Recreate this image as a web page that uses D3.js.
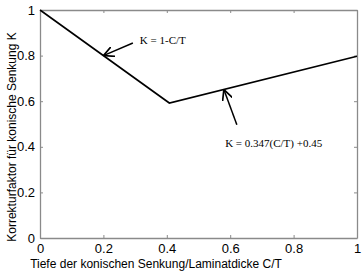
<!DOCTYPE html>
<html>
<head>
<meta charset="utf-8">
<script src="https://cdn.jsdelivr.net/npm/d3@7"></script>
<style>
  body { margin: 0; background: #fff; }
  svg { display: block; }
</style>
</head>
<body>
<div id="chart"></div>
<script>
// curve: K = 1-C/T down to the intersection, then K = 0.347(C/T)+0.45
var curveX = [0, 0.408, 1];
var curveK = [1, 0.592, 0.797];

var xTicks = [0, 0.2, 0.4, 0.6, 0.8, 1];
var yTicks = [0, 0.2, 0.4, 0.6, 0.8, 1];
var xTickLabels = ['0', '0.2', '0.4', '0.6', '0.8', '1'];
var yTickLabels = ['0', '0.2', '0.4', '0.6', '0.8', '1'];

// annotations: text, text anchor point, arrow tail, arrow tip (all in data units)
var noteText = ['K = 1-C/T', 'K = 0.347(C/T) +0.45'];
var noteAt = [[0.315, 0.851], [0.584, 0.399]];
var arrowFrom = [[0.293, 0.855], [0.621, 0.497]];
var arrowTo = [[0.2, 0.8], [0.58, 0.651]];

var width = 364, height = 273;
var margin = {top: 10, right: 7, bottom: 35, left: 40};

var svg = d3.select('#chart').append('svg')
  .attr('width', width)
  .attr('height', height);

var x = d3.scaleLinear().domain([0, 1]).range([margin.left, width - margin.right]);
var y = d3.scaleLinear().domain([0, 1]).range([height - margin.bottom, margin.top]);

var axisColor = '#8a8a8a';
var font = 'Liberation Sans, Arial, sans-serif';

// MATLAB style box with inward ticks on all sides
function styleAxis(g) {
  g.select('.domain').attr('stroke', axisColor).attr('stroke-width', 1.3);
  g.selectAll('.tick line').attr('stroke', axisColor);
}

svg.append('g')
  .attr('transform', 'translate(0,' + y(0) + ')')
  .call(d3.axisBottom(x).tickValues(xTicks).tickSizeInner(-3).tickSizeOuter(0)
    .tickFormat(function(d, i) { return xTickLabels[i]; }).tickPadding(6))
  .call(styleAxis)
  .call(function(g) {
    g.selectAll('text').attr('font-size', 13).attr('font-family', font).attr('fill', '#000');
  });

svg.append('g')
  .attr('transform', 'translate(0,' + y(1) + ')')
  .call(d3.axisTop(x).tickValues(xTicks).tickSizeInner(-3).tickSizeOuter(0).tickFormat(''))
  .call(styleAxis);

svg.append('g')
  .attr('transform', 'translate(' + x(0) + ',0)')
  .call(d3.axisLeft(y).tickValues(yTicks).tickSizeInner(-3).tickSizeOuter(0)
    .tickFormat(function(d, i) { return yTickLabels[i]; }).tickPadding(5))
  .call(styleAxis)
  .call(function(g) {
    g.selectAll('text').attr('font-size', 13).attr('font-family', font).attr('fill', '#000');
  });

svg.append('g')
  .attr('transform', 'translate(' + x(1) + ',0)')
  .call(d3.axisRight(y).tickValues(yTicks).tickSizeInner(-3).tickSizeOuter(0).tickFormat(''))
  .call(styleAxis);

// the curve
var line = d3.line()
  .x(function(d, i) { return x(curveX[i]); })
  .y(function(d) { return y(d); });

svg.append('path')
  .datum(curveK)
  .attr('d', line)
  .attr('fill', 'none')
  .attr('stroke', '#000')
  .attr('stroke-width', 1.6);

// arrow heads
svg.append('defs').append('marker')
  .attr('id', 'head')
  .attr('viewBox', '0 0 10 10')
  .attr('refX', 10).attr('refY', 5)
  .attr('markerWidth', 7).attr('markerHeight', 7)
  .attr('orient', 'auto')
  .append('path')
  .attr('d', 'M0,0 L10,5 L0,10')
  .attr('fill', 'none')
  .attr('stroke', '#000')
  .attr('stroke-width', 1.6);

arrowFrom.forEach(function(p, i) {
  svg.append('line')
    .attr('x1', x(p[0])).attr('y1', y(p[1]))
    .attr('x2', x(arrowTo[i][0])).attr('y2', y(arrowTo[i][1]))
    .attr('stroke', '#000')
    .attr('stroke-width', 1.5)
    .attr('marker-end', 'url(#head)');
});

noteText.forEach(function(t, i) {
  svg.append('text')
    .attr('x', x(noteAt[i][0]))
    .attr('y', y(noteAt[i][1]))
    .attr('font-family', 'Liberation Serif, Times New Roman, serif')
    .attr('font-size', 11)
    .text(t);
});

// axis titles
svg.append('text')
  .attr('x', 156)
  .attr('y', 268)
  .attr('text-anchor', 'middle')
  .attr('font-family', font)
  .attr('font-size', 12)
  .text('Tiefe der konischen Senkung/Laminatdicke C/T');

svg.append('text')
  .attr('transform', 'translate(16,137) rotate(-90)')
  .attr('text-anchor', 'middle')
  .attr('font-family', font)
  .attr('font-size', 12)
  .text('Korrekturfaktor für konische Senkung K');
</script>
</body>
</html>
